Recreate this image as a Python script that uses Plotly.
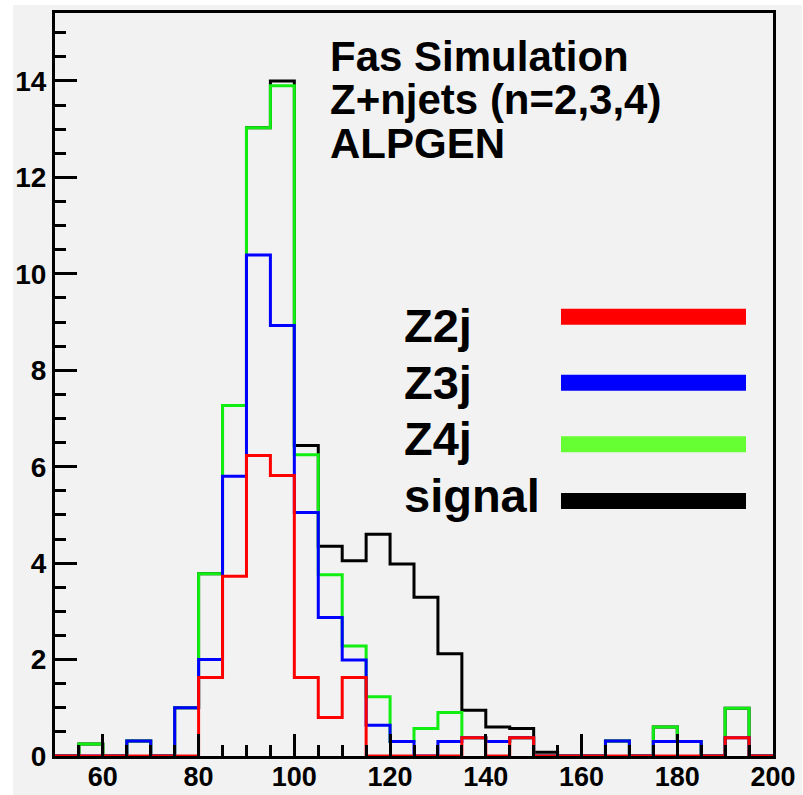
import plotly.graph_objects as go

# ---------------- data ----------------
bin_edges = [50, 55, 60, 65, 70, 75, 80, 85, 90, 95, 100, 105, 110, 115, 120,
             125, 130, 135, 140, 145, 150, 155, 160, 165, 170, 175, 180, 185,
             190, 195, 200]

# visible (stacked) heights of each outline histogram, one value per 5-unit bin
z2j = [0, 0, 0, 0, 0, 0, 1.63, 3.73, 6.23, 5.82, 1.63, 0.80, 1.63, 0, 0,
       0, 0, 0.38, 0, 0.38, 0, 0, 0, 0, 0, 0, 0, 0, 0.38, 0]
z3j = [0, 0, 0, 0.31, 0, 1.0, 2.0, 5.80, 10.39, 8.93, 5.05, 2.87, 1.99, 0.64, 0.30,
       0, 0.30, 0.38, 0.30, 0.38, 0, 0, 0, 0.31, 0, 0.30, 0.30, 0, 0.38, 0]
z4j = [0, 0.25, 0, 0.31, 0, 1.0, 3.78, 7.27, 13.03, 13.9, 6.25, 3.76, 2.28, 1.23, 0.30,
       0.57, 0.90, 0.38, 0.30, 0.38, 0, 0, 0, 0.31, 0, 0.60, 0.30, 0, 0.99, 0]
signal = [0, 0.25, 0, 0.31, 0, 1.0, 3.78, 7.27, 13.03, 14.0, 6.44, 4.35, 4.05, 4.60, 3.98,
          3.29, 2.12, 0.95, 0.60, 0.57, 0.08, 0, 0, 0.31, 0, 0.60, 0.30, 0, 0.99, 0]

legend_labels = ["Z2j", "Z3j", "Z4j", "signal"]
info_lines = ["Fas Simulation", "Z+njets (n=2,3,4)", "ALPGEN"]

x_ticks = [60, 80, 100, 120, 140, 160, 180, 200]
y_ticks = [0, 2, 4, 6, 8, 10, 12, 14]

# ---------------- styling ----------------
FONT = "Liberation Sans, Arial, Helvetica, sans-serif"
BG = "#f2f2f2"
line_colors = {"Z2j": "#ff0000", "Z3j": "#0000ff", "Z4j": "#11ee11", "signal": "#000000"}
legend_colors = {"Z2j": "#ff0000", "Z3j": "#0000ff", "Z4j": "#66ff33", "signal": "#000000"}

W, H = 803, 795
L, R, T, B = 55, 30, 13, 39
PW, PH = W - L - R, H - T - B


def px_x(p):
    return (p - L) / PW


def px_y(p):
    return (H - B - p) / PH


def step(values):
    xs = [bin_edges[0]]
    ys = [0]
    for i, v in enumerate(values):
        xs.append(bin_edges[i])
        ys.append(v)
    xs += [bin_edges[-1], bin_edges[-1]]
    ys += [values[-1], 0]
    return xs, ys


fig = go.Figure()
series = {"Z2j": z2j, "Z3j": z3j, "Z4j": z4j, "signal": signal}
for name in ["signal", "Z4j", "Z3j", "Z2j"]:
    xs, ys = step(series[name])
    fig.add_trace(go.Scatter(x=xs, y=ys, mode="lines", line_shape="hv",
                             line=dict(color=line_colors[name], width=3),
                             name=name, showlegend=False, hoverinfo="skip"))

shapes = [dict(type="rect", xref="paper", yref="paper", layer="below",
               x0=px_x(13), x1=px_x(802), y0=px_y(795), y1=px_y(5),
               fillcolor=BG, line=dict(width=0))]

annotations = []
info_y = [56.5, 99.8, 143.1]
for txt, yy in zip(info_lines, info_y):
    annotations.append(dict(text=txt, xref="paper", yref="paper", x=px_x(328), y=px_y(yy),
                            xanchor="left", yanchor="middle", showarrow=False,
                            font=dict(family=FONT, size=42, color="black", weight="bold")))

leg_text_y = [326, 382, 438.7, 495.4]
leg_line_y = [316.7, 382.7, 444.3, 501]
for lab, ty, ly in zip(legend_labels, leg_text_y, leg_line_y):
    annotations.append(dict(text=lab, xref="paper", yref="paper", x=px_x(402), y=px_y(ty),
                            xanchor="left", yanchor="middle", showarrow=False,
                            font=dict(family=FONT, size=47, color="black", weight="bold")))
    shapes.append(dict(type="line", xref="paper", yref="paper",
                       x0=px_x(561), x1=px_x(746), y0=px_y(ly), y1=px_y(ly),
                       line=dict(color=legend_colors[lab], width=16)))

axis_common = dict(showline=True, linecolor="black", linewidth=3, mirror=True,
                   showgrid=False, zeroline=False, ticks="inside", ticklen=22,
                   tickwidth=3, tickcolor="black", automargin=False)

fig.update_layout(
    width=W, height=H,
    margin=dict(l=L, r=R, t=T, b=B, pad=0, autoexpand=False),
    paper_bgcolor="white", plot_bgcolor=BG,
    showlegend=False,
    shapes=shapes, annotations=annotations,
    xaxis=dict(range=[50, 200], tickvals=x_ticks, ticktext=[str(v) for v in x_ticks],
               ticklabelstandoff=-5,
               tickfont=dict(family=FONT, size=27, color="black", weight="bold"),
               minor=dict(ticks="inside", ticklen=11, tickwidth=3, tickcolor="black",
                          dtick=5, tick0=0, showgrid=False),
               **axis_common),
    yaxis=dict(range=[0, 15.41], tickvals=y_ticks, ticktext=[str(v) for v in y_ticks],
               tickfont=dict(family=FONT, size=28, color="black", weight="bold"),
               minor=dict(ticks="inside", ticklen=11, tickwidth=3, tickcolor="black",
                          dtick=0.5, tick0=0, showgrid=False),
               **axis_common),
)

fig.write_html("out.html")
